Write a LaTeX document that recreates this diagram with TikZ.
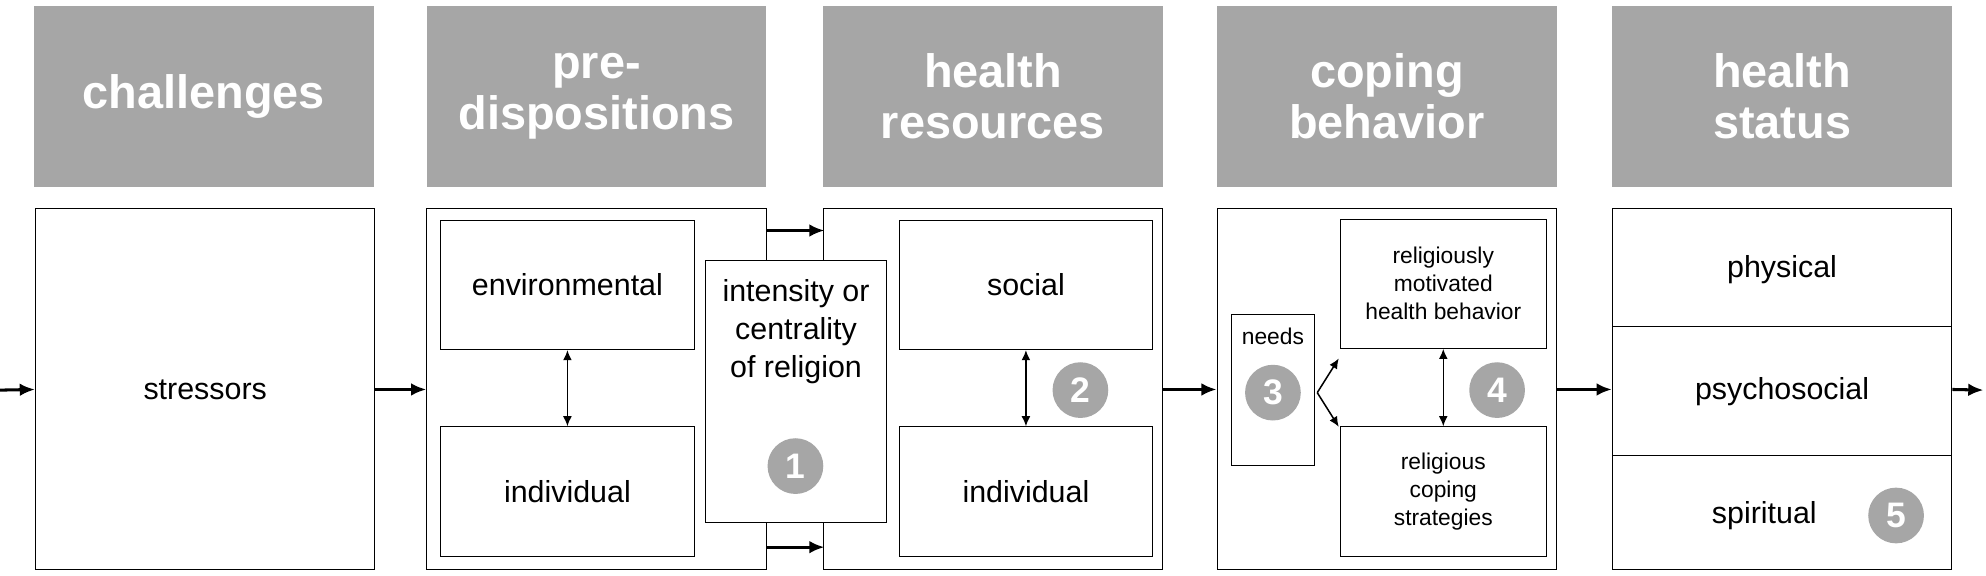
\documentclass[tikz,border=0pt]{standalone}
\usepackage{fontspec}
\setmainfont{Liberation Sans}
\usetikzlibrary{arrows.meta, positioning}
\definecolor{hdrgray}{HTML}{A6A6A6}
\begin{document}
\begin{tikzpicture}[x=0.5pt, y=-0.5pt,
  hdr/.style={rectangle, fill=hdrgray, text=white, font=\fontsize{18.5}{20}\selectfont\bfseries, minimum width=134pt, minimum height=71.5pt, align=center, inner sep=0pt},
  col/.style={rectangle, draw, minimum width=134pt, minimum height=142.5pt, inner sep=0pt},
  inbox/.style={rectangle, draw, fill=white, minimum width=100pt, minimum height=51pt, font=\fontsize{12}{14}\selectfont, align=center, inner sep=0pt},
  small/.style={font=\fontsize{9}{11}\selectfont},
  num/.style={circle, fill=hdrgray, text=white, font=\fontsize{14}{14}\selectfont\bfseries, minimum size=22pt, inner sep=0pt},
  arrow/.style={-{Latex[length=6pt,width=5pt]}, line width=1.2pt},
  darrow/.style={{Latex[length=4pt,width=3.5pt]}-{Latex[length=4pt,width=3.5pt]}, semithick}
]
\useasboundingbox (0,0) rectangle (1568,454);

% headers
\node[hdr] (h1) at (161,76) {challenges};
\node[hdr] (h2) at (471,76) {pre-\\dispositions};
\node[hdr] (h3) at (784,76) {health\\resources};
\node[hdr] (h4) at (1095,76) {coping\\behavior};
\node[hdr] (h5) at (1407,76) {health\\status};

% columns
\node[col, font=\fontsize{12}{14}\selectfont] (stress) at (162,307.5) {stressors};
\node[col] (predisp) at (471,307.5) {};
\node[col] (resources) at (784,307.5) {};
\node[col] (coping) at (1095,307.5) {};
\node[col] (status) at (1407,307.5) {};

% pre-dispositions
\node[inbox] (env) at (448,225) {environmental};
\node[inbox] (indiv1) at (448,388) {individual};
\draw[darrow] (env) -- (indiv1);

% health resources
\node[inbox] (social) at (810,225) {social};
\node[inbox] (indiv2) at (810,388) {individual};
\draw[darrow] (social) -- (indiv2);
\node[num] (n2) at (853,308) {2};

% intensity
\node[inbox, minimum width=71.5pt, minimum height=103.5pt, anchor=north] (intens) at (628.5,205) {};
\node[font=\fontsize{12}{15}\selectfont, align=center] (intenstext) at (628.5,262) {intensity or\\centrality\\of religion};
\node[num] (n1) at (628,368) {1};
\coordinate (t1) at (605,182);
\coordinate (t2) at (651,182);
\coordinate (b1) at (605,432);
\coordinate (b2) at (651,432);
\draw[arrow] (t1) -- (t2);
\draw[arrow] (b1) -- (b2);

% coping behavior
\node[inbox, small, minimum width=33pt, minimum height=59.5pt, anchor=north, align=left] (needs) at (1005,248) {};
\node[small, anchor=north] (needstext) at (1005,252) {needs};
\node[num] (n3) at (1005,310) {3};
\node[inbox, small, minimum width=81.5pt] (motiv) at (1139.5,224) {religiously\\motivated\\health behavior};
\node[inbox, small, minimum width=81.5pt] (strat) at (1139.5,388) {religious\\coping\\strategies};
\draw[darrow] (motiv) -- (strat);
\node[num] (n4) at (1182,308) {4};
\coordinate (fork) at (1040,310);
\coordinate (fu) at (1057,283);
\coordinate (fd) at (1057,337);
\draw[-{Latex[length=4pt,width=3.5pt]}, semithick] (fork) -- (fu);
\draw[-{Latex[length=4pt,width=3.5pt]}, semithick] (fork) -- (fd);

% health status
\draw (1273,258) -- (1541,258);
\draw (1273,360) -- (1541,360);
\node[font=\fontsize{12}{14}\selectfont] (phys) at (1407,213) {physical};
\node[font=\fontsize{12}{14}\selectfont] (psycho) at (1407,309) {psychosocial};
\node[font=\fontsize{12}{14}\selectfont] (spirit) at (1393,407) {spiritual};
\node[num] (n5) at (1497,407) {5};

% flow
\coordinate (in) at (0,308);
\coordinate (out) at (1566,308);
\draw[arrow] (in) -- (stress.west);
\draw[arrow] (stress.east) -- (predisp.west);
\draw[arrow] (resources.east) -- (coping.west);
\draw[arrow] (coping.east) -- (status.west);
\draw[arrow] (status.east) -- (out);
\end{tikzpicture}
\end{document}
